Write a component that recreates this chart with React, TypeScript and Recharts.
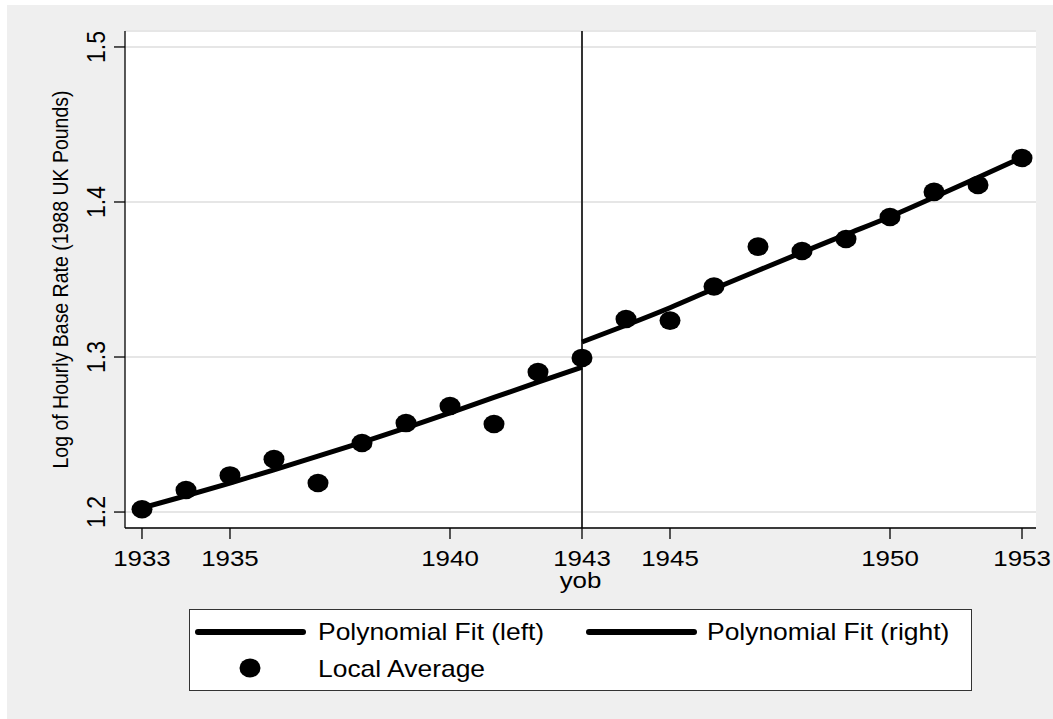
import React from 'react';
import {
  ComposedChart,
  Line,
  Scatter,
  XAxis,
  YAxis,
  CartesianGrid,
  ReferenceLine,
} from 'recharts';

// ---- data ----
const years = [1933, 1934, 1935, 1936, 1937, 1938, 1939, 1940, 1941, 1942, 1943, 1944, 1945, 1946, 1947, 1948, 1949, 1950, 1951, 1952, 1953];
const localAverage = [1.2018, 1.2142, 1.2236, 1.2341, 1.2187, 1.2445, 1.2574, 1.2684, 1.2568, 1.2903, 1.2994, 1.3245, 1.3235, 1.3455, 1.3712, 1.3684, 1.3761, 1.3903, 1.4065, 1.411, 1.4284];

const leftYears = [1933, 1934, 1935, 1936, 1937, 1938, 1939, 1940, 1941, 1942, 1943];
const leftFit = [1.2026, 1.2105, 1.2187, 1.2272, 1.236, 1.245, 1.2543, 1.264, 1.2739, 1.2838, 1.2935];

const rightYears = [1943, 1944, 1945, 1946, 1947, 1948, 1949, 1950, 1951, 1952, 1953];
const rightFit = [1.3097, 1.3205, 1.3318, 1.344, 1.3558, 1.3675, 1.379, 1.3905, 1.403, 1.4158, 1.4288];

const xTicks = [1933, 1935, 1940, 1943, 1945, 1950, 1953];
const yTicks = [1.2, 1.3, 1.4, 1.5];
const cutoffYear = 1943;

const xTitle = 'yob';
const yTitle = 'Log of Hourly Base Rate (1988 UK Pounds)';
const legendLabels = ['Polynomial Fit (left)', 'Polynomial Fit (right)', 'Local Average'];

const pointData = years.map((y, i) => ({ year: y, value: localAverage[i] }));
const leftData = leftYears.map((y, i) => ({ year: y, value: leftFit[i] }));
const rightData = rightYears.map((y, i) => ({ year: y, value: rightFit[i] }));

const FONT = '"Liberation Sans", Arial, Helvetica, sans-serif';
const SX = 1.15;

const XTick = (props: any) => {
  const { x, y, payload } = props;
  return (
    <text
      transform={`translate(${x},${y + 25}) scale(${SX},1)`}
      textAnchor="middle"
      fontSize={22.5}
      fontFamily={FONT}
      fill="#000"
    >
      {payload.value}
    </text>
  );
};

const YTick = (props: any) => {
  const { x, y, payload } = props;
  return (
    <text
      transform={`translate(${x - 7},${y}) scale(${SX},1) rotate(-90)`}
      textAnchor="middle"
      fontSize={23}
      fontFamily={FONT}
      fill="#000"
    >
      {payload.value.toFixed(1)}
    </text>
  );
};

const YLabel = (props: any) => {
  const vb = props.viewBox || {};
  const cy = (vb.y || 0) + (vb.height || 0) / 2;
  return (
    <text
      transform={`translate(68,${cy}) scale(${SX},1) rotate(-90)`}
      textAnchor="middle"
      fontSize={19.5}
      fontFamily={FONT}
      fill="#000"
    >
      {yTitle}
    </text>
  );
};

const XLabel = (props: any) => {
  const vb = props.viewBox || {};
  const cx = (vb.x || 0) + (vb.width || 0) / 2;
  return (
    <text
      transform={`translate(${cx},588) scale(${SX},1)`}
      textAnchor="middle"
      fontSize={22.5}
      fontFamily={FONT}
      fill="#000"
    >
      {xTitle}
    </text>
  );
};

const Dot = (props: any) => {
  const { cx, cy } = props;
  if (cx == null || cy == null) return null;
  return <ellipse cx={cx} cy={cy} rx={10.5} ry={9.3} fill="#000" />;
};

const LegendBox = () => (
  <svg
    width={1053}
    height={719}
    style={{ position: 'absolute', left: 0, top: 0, pointerEvents: 'none' }}
  >
    <rect x={189.5} y={609.5} width={782} height={81} fill="#fff" stroke="#333" strokeWidth={1} />
    <line x1={198} y1={632} x2={303} y2={632} stroke="#000" strokeWidth={6} strokeLinecap="round" />
    <text transform={`translate(318,640) scale(${SX},1)`} fontSize={23} fontFamily={FONT} fill="#000">
      {legendLabels[0]}
    </text>
    <line x1={589} y1={632} x2={694} y2={632} stroke="#000" strokeWidth={6} strokeLinecap="round" />
    <text transform={`translate(707,640) scale(${SX},1)`} fontSize={23} fontFamily={FONT} fill="#000">
      {legendLabels[1]}
    </text>
    <ellipse cx={250} cy={668} rx={10.5} ry={9.5} fill="#000" />
    <text transform={`translate(318,677) scale(${SX},1)`} fontSize={23} fontFamily={FONT} fill="#000">
      {legendLabels[2]}
    </text>
  </svg>
);

export default function App() {
  return (
    <div style={{ position: 'absolute', left: 0, top: 0, width: 1053, height: 719, background: '#fff', overflow: 'hidden' }}>
      <div style={{ position: 'absolute', left: 7, top: 5, width: 1046, height: 714, background: '#efefef' }} />
      <div style={{ position: 'absolute', left: 0, top: 0 }}>
        <ComposedChart
          width={1053}
          height={719}
          margin={{ top: 31, right: 17, left: 0, bottom: 151 }}
        >
          <CartesianGrid vertical={false} fill="#ffffff" stroke="#e6e6e6" strokeWidth={2} />
          <XAxis
            dataKey="year"
            type="number"
            domain={[1932.614, 1953.318]}
            ticks={xTicks}
            interval={0}
            allowDataOverflow
            height={40}
            tickSize={11}
            axisLine={{ stroke: '#000', strokeWidth: 1.3 }}
            tickLine={{ stroke: '#000', strokeWidth: 1.3 }}
            tick={<XTick />}
            label={<XLabel />}
          />
          <YAxis
            type="number"
            domain={[1.1897, 1.5103]}
            ticks={yTicks}
            interval={0}
            allowDataOverflow
            width={125}
            tickSize={11}
            axisLine={{ stroke: '#000', strokeWidth: 1.3 }}
            tickLine={{ stroke: '#000', strokeWidth: 1.3 }}
            tick={<YTick />}
            label={<YLabel />}
          />
          <ReferenceLine x={cutoffYear} stroke="#333" strokeWidth={2} />
          <Scatter
            data={pointData}
            dataKey="value"
            shape={<Dot />}
            isAnimationActive={false}
          />
          <Line
            data={leftData}
            dataKey="value"
            type="monotone"
            stroke="#000"
            strokeWidth={5}
            dot={false}
            activeDot={false}
            isAnimationActive={false}
          />
          <Line
            data={rightData}
            dataKey="value"
            type="monotone"
            stroke="#000"
            strokeWidth={5}
            dot={false}
            activeDot={false}
            isAnimationActive={false}
          />
        </ComposedChart>
      </div>
      <LegendBox />
    </div>
  );
}
